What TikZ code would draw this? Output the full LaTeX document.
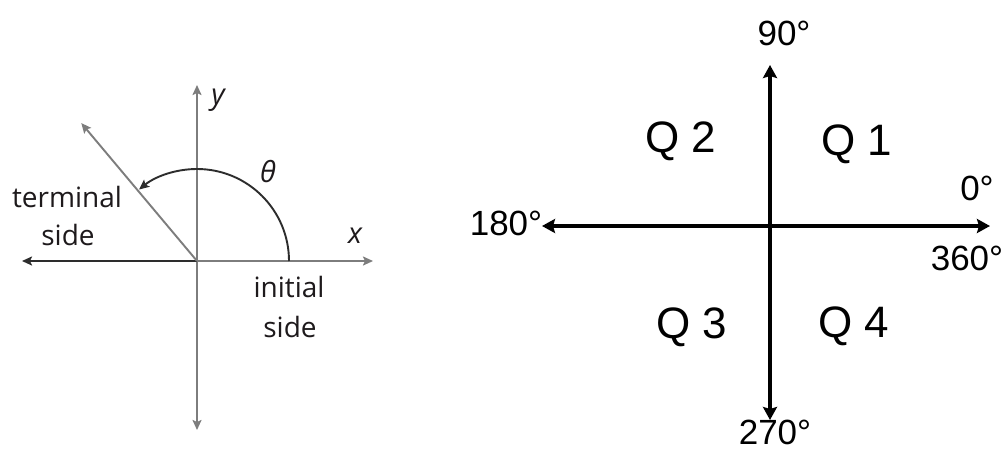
\documentclass[tikz,border=0pt]{standalone}
\usepackage{fontspec}
\setmainfont{Liberation Sans}
\newfontfamily\leftfont{Open Sans}
\usetikzlibrary{arrows.meta,calc}
\definecolor{axisgray}{RGB}{125,125,125}
\definecolor{darkline}{RGB}{45,45,45}
\definecolor{txt}{RGB}{30,26,28}
\begin{document}
\begin{tikzpicture}[x=1pt,y=-1pt,
  gtip/.style={-{Stealth[length=10pt,width=9pt,inset=2pt]}},
  gaxis/.style={draw=axisgray,line width=1.9pt},
  daxis/.style={draw=darkline,line width=1.9pt},
  lbl/.style={font=\leftfont\fontsize{28}{32}\selectfont,text=txt,inner sep=0pt,anchor=base},
  ilbl/.style={font=\leftfont\itshape\fontsize{29}{33}\selectfont,text=txt,inner sep=0pt,anchor=base},
  bigaxis/.style={draw=black,line width=4pt,{Stealth[length=13pt,width=14pt,inset=2pt]}-{Stealth[length=13pt,width=14pt,inset=2pt]}},
  deg/.style={font=\fontsize{35}{40}\selectfont,inner sep=0pt,anchor=base},
  quad/.style={font=\fontsize{44}{48}\selectfont,inner sep=0pt,anchor=base}]
\useasboundingbox[fill=white] (0,0) rectangle (1007,450);
% ---------- left diagram ----------
\coordinate (O) at (197,261);
\coordinate (Ytop) at (197,85);
\coordinate (Ybot) at (197,430);
\coordinate (Xr) at (373,261);
\coordinate (Xl) at (22,261);
\coordinate (A) at (289,261);
\coordinate (T) at ($(O)+(-130:180)$);
\draw[gaxis,{Stealth[length=10pt,width=9pt,inset=2pt]}-{Stealth[length=10pt,width=9pt,inset=2pt]}] (Ybot) -- (Ytop);
\draw[gaxis,gtip] (O) -- (Xr);
\draw[daxis,gtip] (O) -- (Xl);
\draw[gaxis,gtip] (O) -- (T);
\draw[draw=darkline,line width=1.9pt,-{Stealth[length=10pt,width=9pt,inset=2pt]}] (A) arc[start angle=0,end angle=-129,radius=92];
\node[ilbl] (ylab) at (218,104) {y};
\node[ilbl] (xlab) at (355,243) {x};
\node[ilbl] (thlab) at (268,182) {θ};
\node[lbl] (term1) at (67,207) {terminal};
\node[lbl] (term2) at (68,245) {side};
\node[lbl] (init1) at (289,297) {initial};
\node[lbl] (init2) at (290,337) {side};
% ---------- right diagram ----------
\coordinate (Vt) at (770,65);
\coordinate (Vb) at (770,420);
\coordinate (Hl) at (542,226);
\coordinate (Hr) at (990,226);
\draw[bigaxis] (Vb) -- (Vt);
\draw[bigaxis] (Hl) -- (Hr);
\node[deg] (d90) at (784,45) {90°};
\node[deg] (d270) at (775,444) {270°};
\node[deg] (d180) at (506,235) {180°};
\node[deg] (d0) at (977,200) {0°};
\node[deg] (d360) at (967,270) {360°};
\node[quad] (q2) at (681,152) {Q 2};
\node[quad] (q1) at (857,155) {Q 1};
\node[quad] (q3) at (692,338) {Q 3};
\node[quad] (q4) at (854,337) {Q 4};
\end{tikzpicture}
\end{document}
